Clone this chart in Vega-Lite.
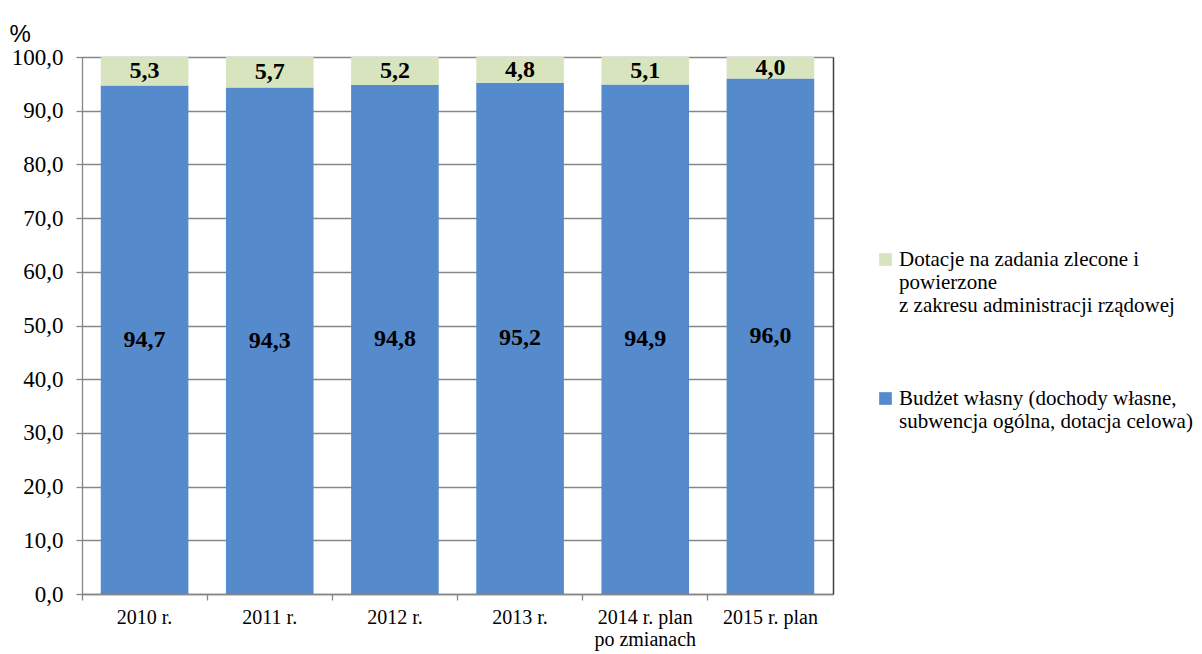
{
  "$schema": "https://vega.github.io/schema/vega-lite/v6.json",
  "autosize": {"type": "none"},
  "padding": {"left": 82, "top": 57, "right": 369, "bottom": 60},
  "width": 751,
  "height": 537,
  "config": {
    "locale": {"number": {"decimal": ",", "thousands": " ", "grouping": [3], "currency": ["", " zł"]}},
    "view": {"stroke": "#868686", "strokeWidth": 1},
    "font": "Liberation Serif"
  },
  "data": {
    "values": [
      {"rok": "2010 r.", "seria": "Budżet własny", "wartosc": 94.7, "kolej": 1},
      {"rok": "2010 r.", "seria": "Dotacje", "wartosc": 5.3, "kolej": 2},
      {"rok": "2011 r.", "seria": "Budżet własny", "wartosc": 94.3, "kolej": 1},
      {"rok": "2011 r.", "seria": "Dotacje", "wartosc": 5.7, "kolej": 2},
      {"rok": "2012 r.", "seria": "Budżet własny", "wartosc": 94.8, "kolej": 1},
      {"rok": "2012 r.", "seria": "Dotacje", "wartosc": 5.2, "kolej": 2},
      {"rok": "2013 r.", "seria": "Budżet własny", "wartosc": 95.2, "kolej": 1},
      {"rok": "2013 r.", "seria": "Dotacje", "wartosc": 4.8, "kolej": 2},
      {"rok": "2014 r. plan po zmianach", "seria": "Budżet własny", "wartosc": 94.9, "kolej": 1},
      {"rok": "2014 r. plan po zmianach", "seria": "Dotacje", "wartosc": 5.1, "kolej": 2},
      {"rok": "2015 r. plan", "seria": "Budżet własny", "wartosc": 96.0, "kolej": 1},
      {"rok": "2015 r. plan", "seria": "Dotacje", "wartosc": 4.0, "kolej": 2}
    ]
  },
  "transform": [
    {"stack": "wartosc", "groupby": ["rok"], "sort": [{"field": "kolej", "order": "ascending"}], "as": ["y0", "y1"]},
    {"calculate": "(datum.y0 + datum.y1) / 2", "as": "srodek"}
  ],
  "encoding": {
    "x": {
      "field": "rok", "type": "nominal", "sort": null,
      "scale": {"paddingInner": 0, "paddingOuter": 0},
      "axis": {
        "title": null, "labelAngle": 0, "bandPosition": 0,
        "labelFont": "Liberation Serif", "labelFontSize": 20, "labelColor": "#000000",
        "labelPadding": 7, "labelLimit": 300,
        "tickColor": "#868686", "tickSize": 6, "tickWidth": 1.3, "domainColor": "#868686", "domainWidth": 1.3,
        "labelExpr": "datum.label == '2014 r. plan po zmianach' ? ['2014 r. plan', 'po zmianach'] : datum.label"
      }
    }
  },
  "layer": [
    {
      "mark": {"type": "bar", "width": {"band": 0.7}},
      "encoding": {
        "y": {
          "field": "y0", "type": "quantitative",
          "scale": {"domain": [0, 100], "nice": false},
          "axis": {
            "title": "%", "titleAngle": 0, "titleAlign": "left", "titleBaseline": "alphabetic",
            "titleX": -73, "titleY": -16, "titleFont": "Liberation Sans", "titleFontSize": 24,
            "titleFontWeight": "normal", "titleColor": "#000000",
            "values": [0, 10, 20, 30, 40, 50, 60, 70, 80, 90, 100], "format": ".1f",
            "labelFont": "Liberation Serif", "labelFontSize": 23, "labelColor": "#000000",
            "labelPadding": 13, "tickColor": "#868686", "tickSize": 6, "tickWidth": 1.3, "domainColor": "#868686", "domainWidth": 1.3,
            "grid": true, "gridColor": "#868686", "gridWidth": 1.3
          }
        },
        "y2": {"field": "y1"},
        "color": {
          "field": "seria", "type": "nominal",
          "scale": {"domain": ["Dotacje", "Budżet własny"], "range": ["#D7E4BD", "#558ACC"]},
          "legend": {
            "title": null, "orient": "none", "legendX": 793, "legendY": 192,
            "symbolType": "square", "symbolSize": 160, "symbolStrokeWidth": 0,
            "labelFont": "Liberation Serif", "labelFontSize": 21, "labelColor": "#000000",
            "labelLimit": 400, "labelOffset": 3, "rowPadding": 71, "labelBaseline": "middle",
            "labelExpr": "datum.label == 'Dotacje' ? ['Dotacje na zadania zlecone i', 'powierzone', 'z zakresu administracji rządowej'] : ['Budżet własny (dochody własne,', 'subwencja ogólna, dotacja celowa)']"
          }
        }
      }
    },
    {
      "mark": {"type": "text", "font": "Liberation Serif", "fontSize": 24, "fontWeight": "bold", "color": "#000000", "baseline": "middle"},
      "encoding": {
        "y": {
          "field": "srodek", "type": "quantitative",
          "axis": {"orient": "right", "title": null, "labels": false, "ticks": false, "grid": false, "domainColor": "#404040", "domainWidth": 1.5}
        },
        "text": {"field": "wartosc", "type": "quantitative", "format": ".1f"}
      }
    }
  ],
  "resolve": {"axis": {"y": "independent"}}
}
